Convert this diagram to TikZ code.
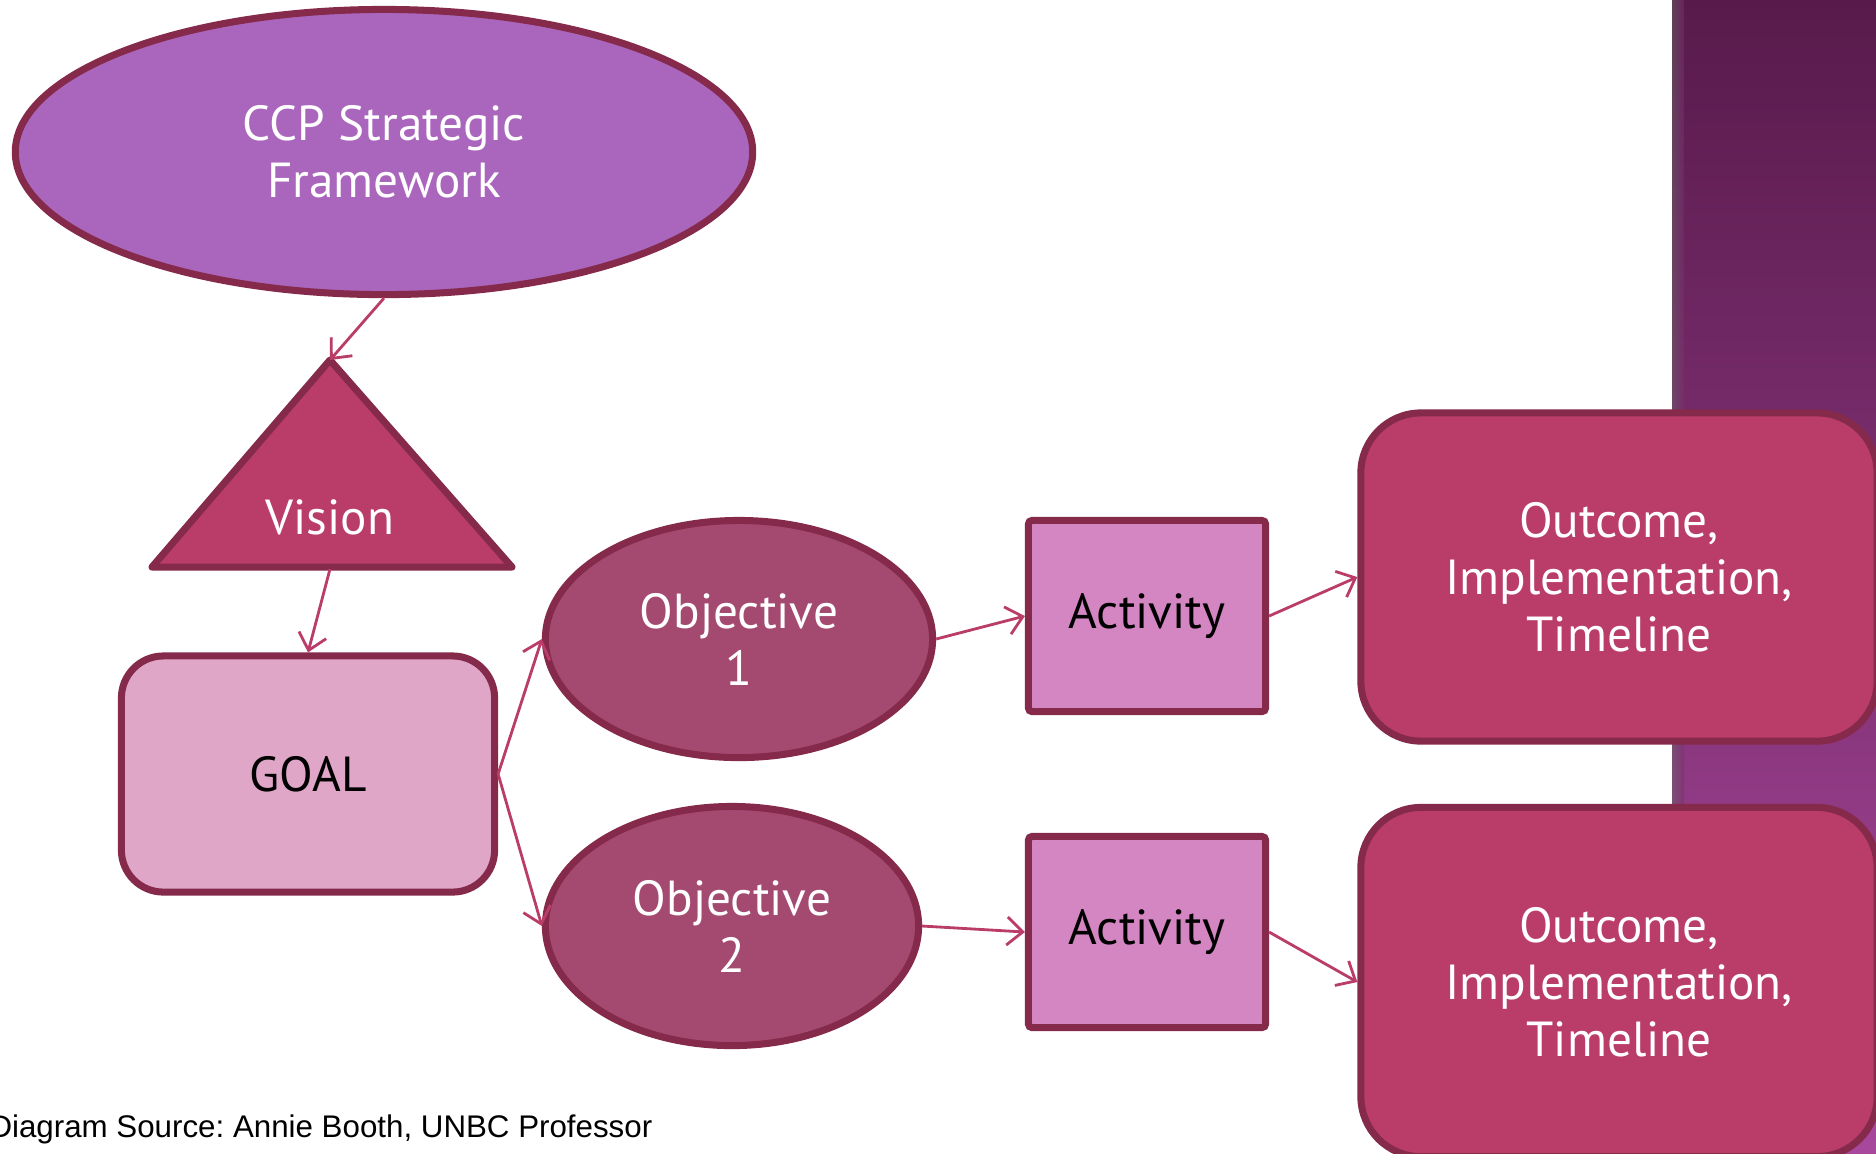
\documentclass[tikz,border=0pt]{standalone}
\usepackage{fontspec}
\setmainfont{PT Sans}
\newfontfamily\footfont{Liberation Sans}
\usetikzlibrary{shapes.geometric,arrows.meta}
\definecolor{rim}{HTML}{862A4B}
\definecolor{framefill}{HTML}{A966BC}
\definecolor{rosefill}{HTML}{B93D68}
\definecolor{goalfill}{HTML}{E0A6C8}
\definecolor{objfill}{HTML}{A44A70}
\definecolor{actfill}{HTML}{D386C2}
\definecolor{linkcol}{HTML}{B93D68}
\definecolor{stripA}{HTML}{581A4B}
\definecolor{stripB}{HTML}{7B2C6D}
\definecolor{stripC}{HTML}{A8489D}
\tikzset{
  block/.style={draw=rim, line width=2pt, align=center, inner sep=0pt,
    font=\fontsize{14}{16.2}\selectfont},
  oval/.style={block, ellipse},
  link/.style={draw=linkcol, line width=0.8pt, -{Straight Barb[length=4.5pt,width=8pt]}}
}
\begin{document}
\frenchspacing
\begin{tikzpicture}[x=0.01cm, y=-0.01cm]
  \useasboundingbox (0,0) rectangle (1876,1153);
  % purple strip on the right
  \shade[top color=stripA, middle color=stripB, bottom color=stripC] (1672,0) rectangle (1876,1153);
  \shade[left color=black!60, right color=stripB, opacity=0.5] (1672,0) rectangle (1684,1153);
  % shapes
  \node[oval, fill=framefill, text=white, minimum width=7.37cm, minimum height=2.85cm] (frame) at (384,152) {CCP Strategic\\Framework};
  \coordinate (vtop) at (330,360);
  \coordinate (vbase) at (330,569);
  \draw[draw=rim, fill=rosefill, line width=2pt, line join=round] (vtop) -- (512,567) -- (152,567) -- cycle;
  \node[font=\fontsize{14}{16.2}\selectfont, text=white] (vision) at (330,517) {Vision};
  \node[block, fill=goalfill, rounded corners=0.42cm, minimum width=3.73cm, minimum height=2.36cm] (goal) at (308,774) {GOAL};
  \node[oval, fill=objfill, text=white, minimum width=3.87cm, minimum height=2.37cm] (obja) at (739,639) {Objective\\1};
  \node[oval, fill=objfill, text=white, minimum width=3.73cm, minimum height=2.39cm] (objb) at (732,926) {Objective\\2};
  \node[block, fill=actfill, rounded corners=1pt, minimum width=2.37cm, minimum height=1.91cm] (acta) at (1147,616) {Activity};
  \node[block, fill=actfill, rounded corners=1pt, minimum width=2.37cm, minimum height=1.91cm] (actb) at (1147,932) {Activity};
  \node[block, fill=rosefill, text=white, rounded corners=0.6cm, minimum width=5.16cm, minimum height=3.28cm] (outa) at (1619,577) {Outcome,\\Implementation,\\Timeline};
  \node[block, fill=rosefill, text=white, rounded corners=0.6cm, minimum width=5.16cm, minimum height=3.49cm] (outb) at (1619,982) {Outcome,\\Implementation,\\Timeline};
  \node[font=\footfont\fontsize{8.9}{10.7}\selectfont, anchor=base east, inner sep=0pt] (source) at (653,1137) {Diagram Source: Annie Booth, UNBC Professor};
  \begin{scope}[link]
    \draw (frame.south) to (vtop);
    \draw (vbase) to (goal.north);
    \draw (goal.east) to (obja.west);
    \draw (goal.east) to (objb.west);
    \draw (obja.east) to (acta.west);
    \draw (objb.east) to (actb.west);
    \draw (acta.east) to (outa.west);
    \draw (actb.east) to (outb.west);
  \end{scope}
\end{tikzpicture}
\end{document}
